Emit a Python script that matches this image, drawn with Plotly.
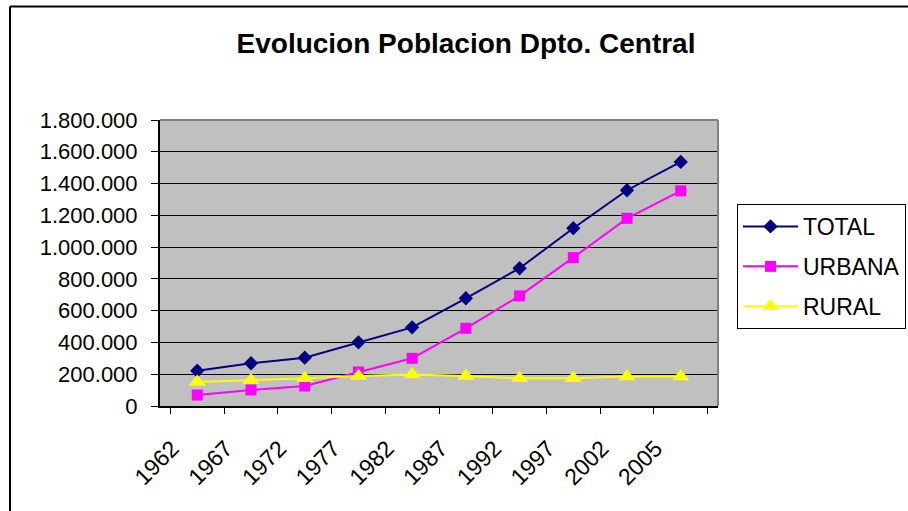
import plotly.graph_objects as go

years = ["1962", "1967", "1972", "1977", "1982", "1987", "1992", "1997", "2002", "2005"]
total = [222000, 269000, 304000, 401000, 495000, 678000, 867000, 1119000, 1358000, 1536000]
urbana = [69000, 101000, 126000, 214000, 300000, 489000, 693000, 934000, 1181000, 1354000]
rural = [151000, 162000, 174000, 189000, 199000, 189000, 174000, 174000, 185000, 185000]

W, H = 908, 511
L, R, T, B = 160, 190, 120, 105
pw, ph = W - L - R, H - T - B

def px2x(px):
    return (px - L) / pw

def py2y(py):
    return (H - B - py) / ph

FONT = "Arial, Liberation Sans, sans-serif"

fig = go.Figure()
fig.add_trace(go.Scatter(x=years, y=total, name="TOTAL", mode="lines+markers",
                         line=dict(color="#000080", width=2),
                         marker=dict(symbol="diamond", size=11, color="#000080"),
                         legendgroup="a"))
fig.add_trace(go.Scatter(x=years, y=urbana, name="URBANA", mode="lines+markers",
                         line=dict(color="#FF00FF", width=2),
                         marker=dict(symbol="square", size=11, color="#FF00FF"),
                         legendgroup="b"))
fig.add_trace(go.Scatter(x=years, y=rural, name="RURAL", mode="lines+markers",
                         line=dict(color="#FFFF00", width=2),
                         marker=dict(symbol="triangle-up", size=15, color="#FFFF00"),
                         legendgroup="c"))

fig.update_layout(
    width=W, height=H,
    margin=dict(l=L, r=R, t=T, b=B),
    paper_bgcolor="white",
    plot_bgcolor="#C0C0C0",
    separators=",.",
    font=dict(family=FONT, color="black", size=22),
    title=dict(text="<b>Evolucion Poblacion Dpto. Central</b>",
               x=466 / W, xanchor="center", xref="container",
               y=1 - 43 / H, yanchor="middle", yref="container",
               font=dict(family=FONT, size=28, color="black")),
    xaxis=dict(type="category", tickson="boundaries", ticks="outside", ticklen=6,
               tickcolor="black", tickwidth=1, showgrid=False, showline=True,
               linecolor="black", linewidth=2, tickangle=-45,
               ticklabelshift=-25, ticklabelstandoff=18,
               tickfont=dict(size=23), zeroline=False),
    yaxis=dict(range=[0, 1800000], dtick=200000, tickformat=",d", ticks="outside",
               ticklen=7, tickcolor="black", showgrid=True, gridcolor="black",
               gridwidth=1, showline=True, linecolor="black", linewidth=2,
               ticklabelstandoff=9,
               zeroline=False, tickfont=dict(size=22)),
    legend=dict(x=737 / W, y=1 - 204 / H, xref="container", yref="container",
                xanchor="left", yanchor="top",
                bordercolor="black", borderwidth=1, bgcolor="white",
                font=dict(size=23), tracegroupgap=7, itemwidth=55),
    showlegend=True,
)

# plot area gray border (top/right)
fig.add_shape(type="line", xref="paper", yref="paper", x0=0, x1=1, y0=1, y1=1,
              line=dict(color="#808080", width=2))
fig.add_shape(type="line", xref="paper", yref="paper", x0=1, x1=1, y0=0, y1=1,
              line=dict(color="#808080", width=2))

# chart outer border (top and left)
fig.add_shape(type="line", xref="paper", yref="paper",
              x0=px2x(10), x1=px2x(W + 5), y0=py2y(6.5), y1=py2y(6.5),
              line=dict(color="black", width=2))
fig.add_shape(type="line", xref="paper", yref="paper",
              x0=px2x(10), x1=px2x(10), y0=py2y(6.5), y1=py2y(H + 5),
              line=dict(color="black", width=2))

fig.write_html("out.html", config={"displayModeBar": False},
               post_script="document.body.style.margin='0';")
